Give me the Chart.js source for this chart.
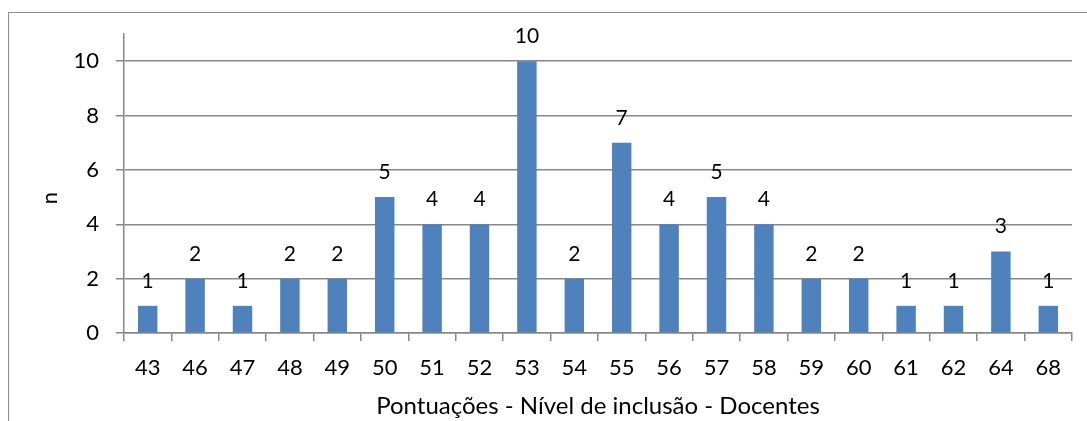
<!DOCTYPE html>
<html>
<head>
<meta charset="utf-8">
<script src="https://cdn.jsdelivr.net/npm/chart.js@4.4.0/dist/chart.umd.min.js"></script>
<style>
  html,body{margin:0;padding:0;background:#fff;overflow:hidden;}
  #wrap{position:relative;width:1087px;height:421px;}
  #frame{position:absolute;left:8px;top:12px;width:1100px;height:430px;border:1.5px solid #8c8c8c;box-sizing:border-box;}
  canvas{position:absolute;left:0;top:0;}
</style>
</head>
<body>
<div id="wrap">
  <div id="frame"></div>
  <canvas id="c" width="1087" height="421"></canvas>
</div>
<script>
const categories = ['43','46','47','48','49','50','51','52','53','54','55','56','57','58','59','60','61','62','64','68'];
const counts = [1,2,1,2,2,5,4,4,10,2,7,4,5,4,2,2,1,1,3,1];
const yTicks = [0,2,4,6,8,10];
const xTitle = 'Pontuações - Nível de inclusão - Docentes';
const yTitle = 'n';

const FONT = 'Lato, "Open Sans", sans-serif';
const AXIS = '#878787';

const valueLabels = {
  id: 'valueLabels',
  afterDatasetsDraw(chart) {
    const ctx = chart.ctx;
    const meta = chart.getDatasetMeta(0);
    ctx.save();
    ctx.font = '21px ' + FONT;
    ctx.fillStyle = '#000';
    ctx.textAlign = 'center';
    ctx.textBaseline = 'alphabetic';
    meta.data.forEach((bar, i) => {
      ctx.fillText(String(chart.data.datasets[0].data[i]), bar.x, bar.y - 18);
    });
    // y-axis title
    ctx.translate(50, 198);
    ctx.rotate(-Math.PI / 2);
    ctx.font = '22px ' + FONT;
    ctx.textBaseline = 'middle';
    ctx.fillText(yTitle, 0, 0);
    ctx.restore();
  }
};

new Chart(document.getElementById('c'), {
  type: 'bar',
  data: {
    labels: categories,
    datasets: [{
      data: counts,
      backgroundColor: '#4F81BD',
      borderWidth: 0,
      barPercentage: 0.41,
      categoryPercentage: 1.0
    }]
  },
  options: {
    responsive: false,
    animation: false,
    devicePixelRatio: 1,
    layout: { padding: { top: 34, right: 15, left: 0, bottom: 0 } },
    plugins: { legend: { display: false }, tooltip: { enabled: false } },
    scales: {
      x: {
        offset: true,
        grid: { offset: true, drawOnChartArea: false, drawTicks: true, tickLength: 8, color: AXIS, lineWidth: 1.5 },
        border: { color: AXIS, width: 1.5 },
        ticks: { color: '#000', font: { family: FONT, size: 22 }, padding: 14, maxRotation: 0, autoSkip: false },
        title: { display: true, text: xTitle, color: '#000', font: { family: FONT, size: 24 }, padding: { top: 4, bottom: 0 } },
        afterFit(s) { s.height = 88; }
      },
      y: {
        min: 0, max: 11,
        afterBuildTicks(s) { s.ticks = yTicks.map(v => ({ value: v })); },
        grid: { color: AXIS, lineWidth: 1.5, drawTicks: true, tickLength: 8 },
        border: { color: AXIS, width: 1.5 },
        ticks: { color: '#000', font: { family: FONT, size: 22 }, padding: 17 },
        title: { display: false },
        afterFit(s) { s.width = 124; }
      }
    }
  },
  plugins: [valueLabels]
});
</script>
</body>
</html>
